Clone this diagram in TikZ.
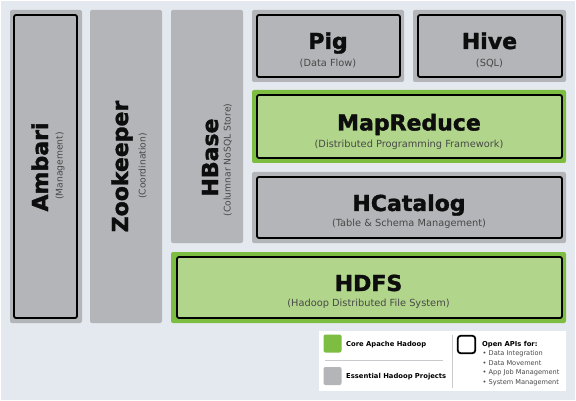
\documentclass[tikz,border=0pt]{standalone}
\usepackage{fontspec}
\setmainfont{DejaVu Sans}
\newfontfamily\heavyfont{DejaVu Sans Bold}[FakeBold=1.6]
\usepackage{tikz}
\usetikzlibrary{calc}

\definecolor{hbg}{RGB}{228,233,239}
\definecolor{hgray}{RGB}{179,181,184}
\definecolor{hgreen}{RGB}{125,190,66}
\definecolor{hlight}{RGB}{177,214,139}
\definecolor{hsub}{RGB}{72,72,72}
\definecolor{hrule}{RGB}{200,202,205}

\begin{document}
\begin{tikzpicture}[x=1pt, y=-1pt,
proj/.style={fill=hgray, rounded corners=2pt, inner sep=0pt},
core/.style={fill=hgreen, rounded corners=2pt, inner sep=0pt},
api/.style={draw=black, line width=1.8pt, rounded corners=2pt, inner sep=0pt},
title/.style={font=\fontsize{22}{24}\heavyfont, text=black!95, inner sep=0pt, anchor=base},
role/.style={font=\fontsize{9.8}{11}\selectfont, text=hsub, inner sep=0pt, anchor=base},
key/.style={font=\fontsize{6.8}{8}\selectfont\bfseries, inner sep=0pt, anchor=base west},
item/.style={font=\fontsize{6.6}{7}\selectfont, text=hsub, inner sep=0pt, anchor=base west}]
\useasboundingbox (0,0) rectangle (576,401);
\fill[white] (0,0) rectangle (576,401);
\fill[hbg] (1,1) rectangle (575,400);

\node[proj, minimum width=72, minimum height=313] (ambari) at (46,166.5) {};
\node[api, minimum width=63, minimum height=303] (ambarib) at (45.5,166.5) {};
\node[title, rotate=90] (ambarit) at (48,167) {Ambari};
\node[role, rotate=90, font=\fontsize{9.2}{11}\selectfont] (ambaris) at (62.5,166) {(Management)};

\node[proj, minimum width=72, minimum height=313] (zoo) at (126,166.5) {};
\node[title, rotate=90] (zoot) at (128,166.5) {Zookeeper};
\node[role, rotate=90, font=\fontsize{9.2}{11}\selectfont] (zoos) at (145.5,166) {(Coordination)};

\node[proj, minimum width=72, minimum height=233] (hbase) at (207,126.5) {};
\node[title, rotate=90] (hbaset) at (218,157.5) {HBase};
\node[role, rotate=90, font=\fontsize{9.2}{11}\selectfont] (hbases) at (230.5,160) {(Columnar NoSQL Store)};

\node[proj, minimum width=152, minimum height=72] (pig) at (328,46) {};
\node[api, minimum width=143, minimum height=62] (pigb) at (328.5,46) {};
\node[title] (pigt) at ($(pig)+(0,3)$) {Pig};
\node[role] (pigs) at ($(pig)+(0,21)$) {(Data Flow)};

\node[proj, minimum width=153, minimum height=72] (hive) at (489.5,46) {};
\node[api, minimum width=144, minimum height=62] (hiveb) at (490,46) {};
\node[title] (hivet) at ($(hive)+(0,3)$) {Hive};
\node[role] (hives) at ($(hive)+(0,21)$) {(SQL)};

\node[core, minimum width=314, minimum height=73] (mapred) at (409,126.5) {};
\node[api, fill=hlight, minimum width=305, minimum height=63] (mapredb) at (409.5,126.5) {};
\node[title] (mapredt) at ($(mapred)+(0,4)$) {MapReduce};
\node[role] (mapreds) at ($(mapred)+(0,21.5)$) {(Distributed Programming Framework)};

\node[proj, minimum width=314, minimum height=71] (hcat) at (409,207.5) {};
\node[api, minimum width=305, minimum height=61] (hcatb) at (409.5,207.5) {};
\node[title] (hcatt) at ($(hcat)+(0,3.5)$) {HCatalog};
\node[role] (hcats) at ($(hcat)+(0,18.5)$) {(Table \& Schema Management)};

\node[core, minimum width=395, minimum height=71] (hdfs) at (368.5,287.5) {};
\node[api, fill=hlight, minimum width=385, minimum height=61] (hdfsb) at (369.5,287.5) {};
\node[title] (hdfst) at ($(hdfs)+(0,3.5)$) {HDFS};
\node[role] (hdfss) at ($(hdfs)+(0,19)$) {(Hadoop Distributed File System)};

\node[fill=white, minimum width=247, minimum height=60, inner sep=0pt] (legend) at (442.5,361) {};
\node[core, minimum width=18, minimum height=18] (coresw) at (332.5,343.5) {};
\node[key] (corek) at (346,346.5) {Core Apache Hadoop};
\coordinate (rulea) at (325,360.5);
\coordinate (ruleb) at (443,360.5);
\draw[hrule, line width=0.8pt] (rulea) -- (ruleb);
\node[proj, minimum width=18, minimum height=18] (projsw) at (332.5,376) {};
\node[key] (projk) at (346,378.7) {Essential Hadoop Projects};
\coordinate (splita) at (452.5,335);
\coordinate (splitb) at (452.5,388);
\draw[hrule, line width=0.8pt] (splita) -- (splitb);
\node[api, rounded corners=3pt, minimum width=17.5, minimum height=17.5] (apisw) at (466.5,344.5) {};
\node[key] (apik) at (482,346) {Open APIs for:};
\node[item] (apia) at (482.5,355.8) {• Data Integration};
\node[item] (apib) at (482.5,365.2) {• Data Movement};
\node[item] (apic) at (482.5,374.6) {• App Job Management};
\node[item] (apid) at (482.5,384) {• System Management};
\end{tikzpicture}
\end{document}
